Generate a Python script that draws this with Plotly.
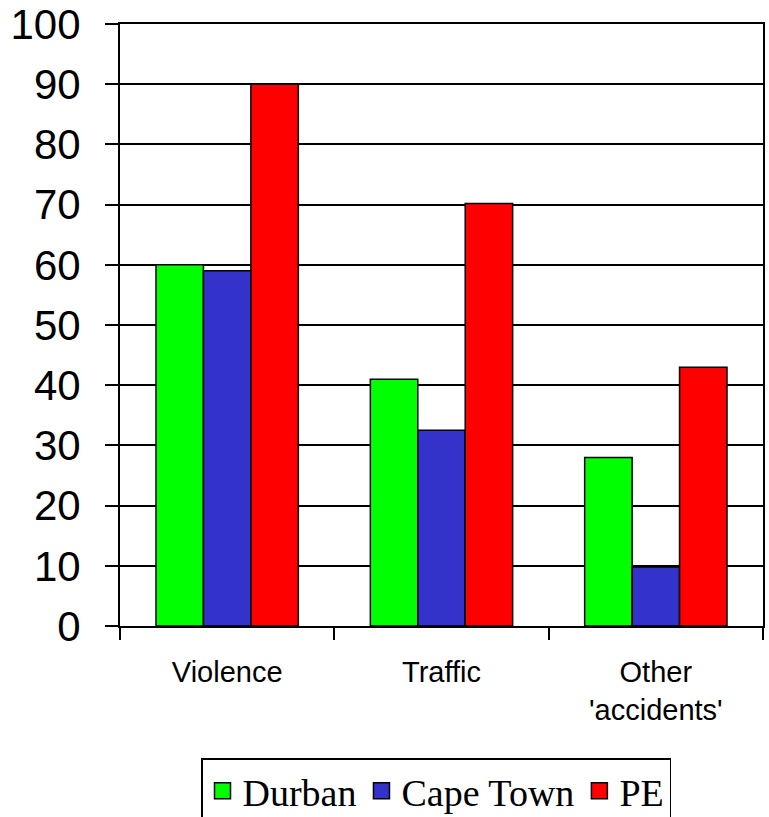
import plotly.graph_objects as go

categories = ["Violence", "Traffic", "Other<br>'accidents'"]
durban = [60, 41, 28]
cape_town = [59, 32.5, 9.8]
pe = [90, 70.2, 43]
series_names = ["Durban", "Cape Town", "PE"]
series_colors = ["#00FF00", "#3333CC", "#FF0000"]
y_ticks = [0, 10, 20, 30, 40, 50, 60, 70, 80, 90, 100]

fig = go.Figure()
for name, vals, col in zip(series_names, [durban, cape_town, pe], series_colors):
    fig.add_trace(go.Bar(
        x=categories, y=vals, name=name,
        marker=dict(color=col, line=dict(color="black", width=1.5)),
        showlegend=False,
    ))
# legend proxies (larger square symbols)
for name, col in zip(series_names, series_colors):
    fig.add_trace(go.Scatter(
        x=[None], y=[None], mode="markers", name=name,
        marker=dict(symbol="square", size=16, color=col,
                    line=dict(color="black", width=1.5)),
    ))

PLOT_L, PLOT_R, PLOT_T, PLOT_B = 120, 763, 24, 626
W, H = 769, 817

fig.update_layout(
    width=W, height=H,
    margin=dict(l=PLOT_L, r=W - PLOT_R, t=PLOT_T, b=H - PLOT_B, autoexpand=False),
    paper_bgcolor="white", plot_bgcolor="white",
    barmode="group", bargap=0.336, bargroupgap=0,
    showlegend=True,
    legend=dict(
        orientation="h",
        x=(201 - PLOT_L) / (PLOT_R - PLOT_L), xanchor="left",
        y=(PLOT_B - 758) / (PLOT_B - PLOT_T), yanchor="top",
        font=dict(family="Liberation Serif", size=38, color="black"),
        bordercolor="black", borderwidth=1.5, bgcolor="white",
        itemsizing="trace",
    ),
    xaxis=dict(
        type="category", tickson="boundaries", ticks="outside", ticklen=12,
        tickwidth=1.5, tickcolor="black",
        showline=True, linecolor="black", linewidth=2, mirror=True,
        showgrid=False, automargin=False,
        tickfont=dict(family="Liberation Sans", size=29, color="black"),
        ticklabelstandoff=19,
    ),
    yaxis=dict(
        range=[0, 100], tickvals=y_ticks, ticks="outside", ticklen=13,
        tickwidth=1.5, tickcolor="black",
        showline=True, linecolor="black", linewidth=2, mirror=True,
        showgrid=True, gridcolor="black", gridwidth=1.5,
        zeroline=False, automargin=False,
        tickfont=dict(family="Liberation Sans", size=42, color="black"),
        ticklabelstandoff=16,
    ),
)
fig.write_html(
    "out.html",
    config={"displayModeBar": False},
    post_script="document.body.style.margin='0';document.body.style.overflow='hidden';",
)
